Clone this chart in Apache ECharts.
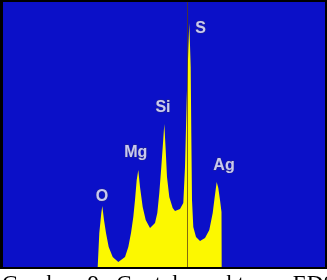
<!DOCTYPE html>
<html>
<head>
<meta charset="utf-8">
<script src="https://cdn.jsdelivr.net/npm/echarts@6/dist/echarts.min.js"></script>
<style>
  html, body { margin: 0; padding: 0; background: #fff; }
  #main { width: 327px; height: 280px; }
</style>
</head>
<body>
<div id="main"></div>
<script>
// EDS spectrum: channel vs counts
const channels = [94.7, 96.3, 98.3, 99.3, 101, 103, 105.7, 109.7, 115.3, 122, 125.3, 128, 130.3, 132, 133.7, 135.3,
  137, 139.7, 142.7, 147, 148.7, 152, 154.3, 156.3, 158.3, 160, 161.3, 162.7, 164, 166.3, 169.7, 172, 177, 180.3,
  182, 183.7, 185.3, 186.3, 187.7, 188.3, 189, 190.3, 193, 197, 202, 206.3, 209.7, 211.7, 213.7, 215.3, 217, 218.5, 218.7]
const counts = [0, 136, 216, 244, 188, 136, 80, 40, 20, 40, 80, 136, 200, 268, 348, 388,
  320, 240, 188, 156, 152, 176, 216, 296, 400, 496, 572, 468, 360, 280, 236, 224, 232, 256,
  400, 668, 868, 976, 800, 536, 268, 160, 120, 104, 116, 148, 216, 280, 340, 316, 268, 220, 0]

// peak labels
const peakNames = ['O', 'Mg', 'Si', 'S', 'Ag']
const peakLabelChannel = [99, 132.7, 160, 197.5, 221]
const peakLabelCounts = [282, 456, 638, 952, 404]

// marker line channel
const markerChannel = 184

const caption = 'Gambar  9.  Contoh  spektrum  EDS'

const chart = echarts.init(document.getElementById('main'), null, { renderer: 'canvas' })

const option = {
  animation: false,
  backgroundColor: '#ffffff',
  grid: { left: 3, right: 2, top: 2, bottom: 13 },
  xAxis: { type: 'value', min: 0, max: 322, show: false },
  yAxis: { type: 'value', min: 0, max: 1060, show: false },
  graphic: [
    { type: 'rect', z: 0, silent: true, shape: { x: 0, y: 0, width: 327, height: 269 }, style: { fill: '#000000' } },
    { type: 'rect', z: 0, silent: true, shape: { x: 3, y: 2, width: 322, height: 265 }, style: { fill: '#0b10c8' } },
    {
      type: 'text', z: 0, silent: true, left: 2, top: 273,
      style: { text: caption, fill: '#000', font: '23px "Liberation Serif"' },
    },
  ],
  series: [
    {
      type: 'line',
      data: channels.map((c, i) => [c, counts[i]]),
      showSymbol: false,
      lineStyle: { width: 0 },
      areaStyle: { color: '#fcf800', opacity: 1 },
      z: 2,
      markLine: {
        silent: true,
        symbol: 'none',
        label: { show: false },
        lineStyle: { color: 'rgba(90,60,20,0.75)', width: 1, type: 'solid' },
        data: [{ xAxis: markerChannel }],
      },
    },
    {
      type: 'scatter',
      symbolSize: 0,
      z: 4,
      data: peakNames.map((n, i) => ({ name: n, value: [peakLabelChannel[i], peakLabelCounts[i]] })),
      label: {
        show: true,
        position: 'inside',
        formatter: '{b}',
        color: '#f6f6ff',
        fontFamily: 'Liberation Sans',
        fontWeight: 'bold',
        fontSize: 16,
        textBorderColor: '#303070',
        textBorderWidth: 0.8,
      },
    },
  ],
}

chart.setOption(option)
</script>
</body>
</html>
